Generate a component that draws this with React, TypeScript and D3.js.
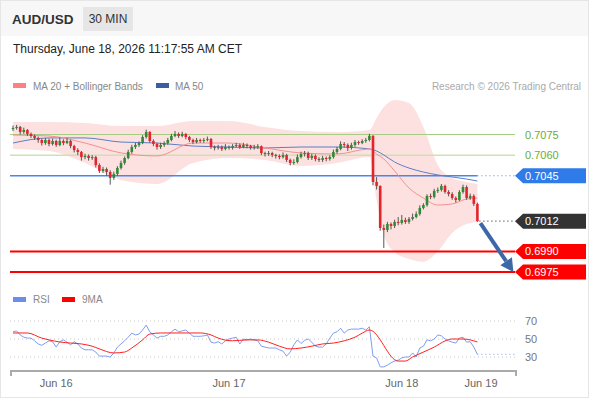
import React from "react";
import * as d3 from "d3";

// ---- Candles (30 min bars, index 0..129) ----
const opens = [
  0.70790,0.70797,0.70805,0.70768,0.70783,0.70754,0.70739,0.70725,0.70710,0.70688,
  0.70710,0.70681,0.70703,0.70674,0.70703,0.70688,0.70703,0.70666,0.70637,0.70623,
  0.70586,0.70594,0.70579,0.70586,0.70528,0.70485,0.70499,0.70477,0.70434,0.70463,
  0.70506,0.70543,0.70579,0.70623,0.70659,0.70674,0.70688,0.70732,0.70768,0.70703,
  0.70681,0.70659,0.70674,0.70688,0.70710,0.70739,0.70754,0.70739,0.70754,0.70732,
  0.70710,0.70695,0.70710,0.70703,0.70710,0.70717,0.70659,0.70652,0.70659,0.70645,
  0.70659,0.70652,0.70666,0.70674,0.70659,0.70674,0.70666,0.70652,0.70659,0.70665,
  0.70615,0.70608,0.70615,0.70601,0.70594,0.70586,0.70601,0.70565,0.70543,0.70550,
  0.70586,0.70608,0.70615,0.70579,0.70594,0.70572,0.70565,0.70579,0.70572,0.70586,
  0.70623,0.70645,0.70681,0.70674,0.70652,0.70674,0.70695,0.70688,0.70703,0.70710,
  0.70740,0.70405,0.70376,0.70070,0.70056,0.70099,0.70085,0.70114,0.70107,0.70128,
  0.70114,0.70136,0.70150,0.70172,0.70216,0.70237,0.70303,0.70296,0.70339,0.70347,
  0.70376,0.70332,0.70317,0.70288,0.70274,0.70332,0.70368,0.70288,0.70303,0.70245,
];
const closes = [
  0.70797,0.70805,0.70768,0.70783,0.70754,0.70739,0.70725,0.70710,0.70688,0.70710,
  0.70681,0.70703,0.70674,0.70703,0.70688,0.70703,0.70666,0.70637,0.70623,0.70586,
  0.70594,0.70579,0.70586,0.70528,0.70485,0.70499,0.70477,0.70434,0.70463,0.70506,
  0.70543,0.70579,0.70623,0.70659,0.70674,0.70688,0.70732,0.70768,0.70703,0.70681,
  0.70659,0.70674,0.70688,0.70710,0.70739,0.70754,0.70739,0.70754,0.70732,0.70710,
  0.70695,0.70710,0.70703,0.70710,0.70717,0.70659,0.70652,0.70659,0.70645,0.70659,
  0.70652,0.70666,0.70674,0.70659,0.70674,0.70666,0.70652,0.70659,0.70665,0.70615,
  0.70608,0.70615,0.70601,0.70594,0.70586,0.70601,0.70565,0.70543,0.70550,0.70586,
  0.70608,0.70615,0.70579,0.70594,0.70572,0.70565,0.70579,0.70572,0.70586,0.70623,
  0.70645,0.70681,0.70674,0.70652,0.70674,0.70695,0.70688,0.70703,0.70710,0.70740,
  0.70405,0.70376,0.70070,0.70056,0.70099,0.70085,0.70114,0.70107,0.70128,0.70114,
  0.70136,0.70150,0.70172,0.70216,0.70237,0.70303,0.70296,0.70339,0.70347,0.70376,
  0.70332,0.70317,0.70288,0.70274,0.70332,0.70368,0.70288,0.70303,0.70245,0.70120,
];
const highs = [
  0.70815,0.70820,0.70812,0.70800,0.70790,0.70765,0.70750,0.70735,0.70720,0.70725,
  0.70720,0.70720,0.70712,0.70730,0.70715,0.70725,0.70712,0.70675,0.70650,0.70630,
  0.70610,0.70605,0.70600,0.70595,0.70540,0.70515,0.70510,0.70490,0.70480,0.70520,
  0.70560,0.70590,0.70640,0.70675,0.70690,0.70700,0.70745,0.70785,0.70775,0.70715,
  0.70690,0.70690,0.70700,0.70725,0.70755,0.70775,0.70765,0.70770,0.70760,0.70740,
  0.70720,0.70725,0.70720,0.70725,0.70735,0.70725,0.70670,0.70675,0.70670,0.70680,
  0.70670,0.70680,0.70690,0.70685,0.70690,0.70685,0.70675,0.70675,0.70680,0.70670,
  0.70625,0.70630,0.70625,0.70610,0.70605,0.70620,0.70610,0.70575,0.70570,0.70605,
  0.70625,0.70630,0.70625,0.70610,0.70605,0.70585,0.70595,0.70590,0.70600,0.70640,
  0.70660,0.70700,0.70695,0.70685,0.70690,0.70710,0.70705,0.70715,0.70725,0.70755,
  0.70745,0.70440,0.70380,0.70095,0.70115,0.70110,0.70130,0.70150,0.70165,0.70145,
  0.70150,0.70175,0.70190,0.70235,0.70250,0.70315,0.70320,0.70355,0.70365,0.70390,
  0.70385,0.70345,0.70330,0.70300,0.70345,0.70385,0.70380,0.70320,0.70315,0.70255,
];
const lows = [
  0.70775,0.70785,0.70750,0.70755,0.70740,0.70725,0.70710,0.70690,0.70670,0.70675,
  0.70665,0.70670,0.70660,0.70665,0.70672,0.70680,0.70650,0.70620,0.70600,0.70560,
  0.70570,0.70560,0.70565,0.70510,0.70470,0.70470,0.70450,0.70385,0.70420,0.70450,
  0.70495,0.70530,0.70570,0.70610,0.70645,0.70660,0.70680,0.70720,0.70690,0.70665,
  0.70640,0.70645,0.70660,0.70675,0.70700,0.70730,0.70725,0.70730,0.70715,0.70695,
  0.70680,0.70685,0.70690,0.70690,0.70700,0.70645,0.70635,0.70640,0.70630,0.70635,
  0.70640,0.70640,0.70655,0.70645,0.70650,0.70650,0.70640,0.70640,0.70645,0.70600,
  0.70590,0.70595,0.70585,0.70575,0.70570,0.70575,0.70550,0.70525,0.70530,0.70540,
  0.70575,0.70590,0.70565,0.70565,0.70555,0.70550,0.70550,0.70555,0.70560,0.70575,
  0.70610,0.70635,0.70655,0.70630,0.70640,0.70660,0.70675,0.70680,0.70690,0.70700,
  0.70380,0.70350,0.70050,0.69925,0.70040,0.70060,0.70070,0.70090,0.70095,0.70100,
  0.70100,0.70125,0.70140,0.70160,0.70205,0.70225,0.70280,0.70285,0.70325,0.70335,
  0.70320,0.70300,0.70275,0.70255,0.70265,0.70320,0.70275,0.70275,0.70230,0.70115,
];

const bandIdx = [0,10,20,30,40,50,60,70,80,90,99,101,103,106,110,114,118,122,126,129];
const bbUpper = [0.70841,0.70841,0.70834,0.70812,0.70812,0.70848,0.70848,0.70805,0.70775,0.70768,0.70783,0.70870,0.70950,0.71001,0.70979,0.70805,0.70528,0.70434,0.70405,0.70390];
const bbLower = [0.70645,0.70630,0.70543,0.70419,0.70390,0.70543,0.70579,0.70565,0.70521,0.70543,0.70586,0.70274,0.70019,0.69895,0.69845,0.69825,0.69900,0.70034,0.70099,0.70114];
const ma20 = [0.70746,0.70739,0.70688,0.70616,0.70594,0.70688,0.70688,0.70652,0.70616,0.70608,0.70645,0.70608,0.70572,0.70485,0.70361,0.70288,0.70237,0.70245,0.70281,0.70288];
const ma50 = [0.70688,0.70725,0.70725,0.70695,0.70688,0.70666,0.70659,0.70652,0.70659,0.70659,0.70645,0.70630,0.70601,0.70550,0.70506,0.70477,0.70456,0.70441,0.70426,0.70412];

const rsi = [
  58,59,54.5,52,51,51,48,44.5,43,45.5,
  48,47,41,47,49,46.5,43.5,47,44.5,40,
  38,38,38,35.5,31,31,31,30,34.5,41,
  44.5,48,52,56.5,54.5,55.5,60,65.5,58,54.5,
  51,53,53,54.5,58,61,58,59,60,56.5,
  53,53,53,53.5,54.5,46.5,45.5,47,44.5,48,
  50,51,52,44.5,50,49,50,49,48,42,
  41,40,40,40,38,36.5,31,35.5,43.5,49,
  45,48.5,50,46.5,42,41,41,44.5,51,56.5,
  58,62,56.5,60,61,61,61,62,60,63.5,
  31,29,19,19,21,23.5,25.5,26.5,29,30,
  30,34.5,30,40,42,49,48,50,54.5,53.5,
  50,48,46.5,45.5,51,52,46.5,47,41,33,
];
const rsiMaIdx = [0,4,8,10,13,16,19,22,24,28,31,33,36,38,41,45,49,52,55,57,61,65,68,71,74,77,80,83,86,89,92,95,97,99,107,109,111,114,117,120,122,125,127,129];
const rsiMa = [56.7,56.7,51,49,46.7,45.5,44.5,42,39,34.5,35.5,40,49,55.5,56.7,56.7,56.7,56.7,54.5,51,48,49,49,46.5,42,39,40,42,44.5,45.5,48,52,56.5,60,25.5,25.5,30,35.5,41,47.8,50,50,49,46.7];

// ---- Levels & ticks ----
const resistances = [0.7075, 0.7060];
const pivot = 0.7045;
const lastPrice = 0.7012;
const supports = [0.6990, 0.6975];
const targetPrice = 0.6975;
const targetIdx = 139;
const rsiLevels = [70, 50, 30];
const dayTickIdx = [12, 60, 108, 130];
const dayTickLabels = ["Jun 16", "Jun 17", "Jun 18", "Jun 19"];

const FONT = "'Liberation Sans', Arial, Helvetica, sans-serif";

export default function App() {
  const W = 590, H = 400;
  const x = d3.scaleLinear().domain([0, 129]).range([13, 477.4]);
  const y = d3.scaleLinear().domain([0.6975, 0.7075]).range([272, 134.5]);
  const yr = d3.scaleLinear().domain([30, 70]).range([357, 321]);
  const L = 10, R = 515;

  const band = d3.area<number>()
    .x((_, i) => x(bandIdx[i]))
    .y0((_, i) => y(bbLower[i]))
    .y1((_, i) => y(bbUpper[i]))
    .curve(d3.curveMonotoneX)(bandIdx);
  const lineOf = (idx: number[], vals: number[], sc: (v: number) => number) =>
    d3.line<number>().x((_, i) => x(idx[i])).y((_, i) => sc(vals[i])).curve(d3.curveMonotoneX)(idx) || "";

  const ma20Path = lineOf(bandIdx, ma20, y);
  const ma50Path = lineOf(bandIdx, ma50, y);
  const rsiPath = d3.line<number>().x((_, i) => x(i)).y((v) => yr(v))(rsi) || "";
  const rsiMaPath = lineOf(rsiMaIdx, rsiMa, yr);

  const lastX = x(closes.length - 1);
  const label = (v: number, text: string, fill: string) => {
    const cy = y(v);
    const h = 7.5;
    const p = `M${R},${cy} L${R + 8},${cy - h} L586,${cy - h} L586,${cy + h} L${R + 8},${cy + h} Z`;
    return (
      <g key={text}>
        <path d={p} fill={fill} />
        <text x={R + 10} y={cy + 4} fill="#fff" fontSize={11}>{text}</text>
      </g>
    );
  };

  // arrow
  const ax1 = lastX + 3, ay1 = y(lastPrice) + 2;
  const ax2 = x(targetIdx), ay2 = y(targetPrice);
  const ang = Math.atan2(ay2 - ay1, ax2 - ax1);
  const headLen = 13, headW = 7;
  const bx = ax2 - headLen * Math.cos(ang), by = ay2 - headLen * Math.sin(ang);
  const head = `M${ax2},${ay2} L${bx + headW * Math.sin(ang)},${by - headW * Math.cos(ang)} L${bx - headW * Math.sin(ang)},${by + headW * Math.cos(ang)} Z`;

  return (
    <svg width={W} height={H} style={{ position: "absolute", left: 0, top: 0, fontFamily: FONT }}>
      <rect x={0} y={0} width={W} height={H} fill="#fff" />
      <rect x={0} y={0} width={588} height={36} fill="#f7f7f7" />
      <rect x={0.5} y={0.5} width={588} height={397} fill="none" stroke="#e6e6e6" />

      {/* header */}
      <text x={12} y={24} fontSize={13.5} fontWeight="bold" fill="#333">AUD/USD</text>
      <rect x={83} y={7} width={50} height={24} fill="#e6e6e6" rx={1} />
      <text x={108} y={23} fontSize={12} fill="#333" textAnchor="middle">30 MIN</text>
      <text x={13} y={53} fontSize={12} fill="#222">Thursday, June 18, 2026 11:17:55 AM CET</text>

      {/* legend */}
      <rect x={13} y={83} width={13} height={5} fill="#ff8080" />
      <text x={33} y={90} fontSize={10} fill="#888">MA 20 + Bollinger Bands</text>
      <rect x={156} y={83} width={13} height={5} fill="#3a5fa0" />
      <text x={175} y={90} fontSize={10} fill="#888">MA 50</text>
      <text x={581} y={90} fontSize={10} fill="#aaa" textAnchor="end">Research © 2026 Trading Central</text>

      {/* bollinger band */}
      <path d={band || ""} fill="#fde1e1" />

      {/* levels */}
      <line x1={L} x2={R} y1={y(resistances[0])} y2={y(resistances[0])} stroke="#a6cc85" strokeWidth={1} />
      <line x1={L} x2={R} y1={y(resistances[1])} y2={y(resistances[1])} stroke="#c9e4b1" strokeWidth={1.5} />
      {resistances.map((v) => (
        <text key={v} x={R + 10} y={y(v) + 4} fontSize={11} fill="#6aac3a">{v.toFixed(4)}</text>
      ))}
      <line x1={L} x2={lastX} y1={y(pivot)} y2={y(pivot)} stroke="#4a86e8" strokeWidth={1.3} />
      <line x1={lastX} x2={R} y1={y(pivot)} y2={y(pivot)} stroke="#4a86e8" strokeWidth={1.2} strokeDasharray="1,3" />
      <line x1={lastX + 2} x2={R} y1={y(lastPrice)} y2={y(lastPrice)} stroke="#444" strokeWidth={1.2} strokeDasharray="1,3" />
      {supports.map((v) => (
        <line key={v} x1={L} x2={R} y1={y(v)} y2={y(v)} stroke="#ff0000" strokeWidth={2} />
      ))}

      {/* MAs */}
      <path d={ma50Path} fill="none" stroke="#5b7fc4" strokeWidth={1} />
      <path d={ma20Path} fill="none" stroke="#f59090" strokeWidth={1} />

      {/* candles */}
      {closes.map((c, i) => {
        const o = opens[i];
        const up = c >= o;
        const cx = x(i);
        const top = y(Math.max(o, c));
        const bot = y(Math.min(o, c));
        const hgt = Math.max(1, bot - top);
        return (
          <g key={i}>
            <line x1={cx} x2={cx} y1={y(highs[i])} y2={y(lows[i])} stroke="#555" strokeWidth={1} />
            <rect x={cx - 1.3} y={top} width={2.6} height={hgt} fill={up ? "#2f8a36" : "#e3242b"} />
          </g>
        );
      })}

      {/* labels */}
      {label(pivot, pivot.toFixed(4), "#2f7bea")}
      {label(lastPrice, lastPrice.toFixed(4), "#333333")}
      {supports.map((v) => label(v, v.toFixed(4), "#ff0000"))}

      {/* arrow */}
      <line x1={ax1} y1={ay1} x2={bx} y2={by} stroke="#3d68a8" strokeWidth={4} />
      <path d={head} fill="#3d68a8" />

      {/* RSI legend */}
      <rect x={13} y={297} width={13} height={5} fill="#6b8ee8" />
      <text x={33} y={303} fontSize={10} fill="#888">RSI</text>
      <rect x={62} y={297} width={13} height={5} fill="#ff0000" />
      <text x={82} y={303} fontSize={10} fill="#888">9MA</text>

      {/* RSI grid */}
      {rsiLevels.map((v) => (
        <g key={v}>
          <line x1={L} x2={R} y1={yr(v)} y2={yr(v)} stroke="#c8c8c8" strokeDasharray="1,3" />
          <text x={R + 10} y={yr(v) + 4} fontSize={11} fill="#777">{v}</text>
        </g>
      ))}
      <path d={rsiPath} fill="none" stroke="#7f9ef0" strokeWidth={1} />
      <line x1={lastX} x2={R} y1={yr(rsi[rsi.length - 1])} y2={yr(rsi[rsi.length - 1])} stroke="#7f9ef0" strokeDasharray="1,3" />
      <path d={rsiMaPath} fill="none" stroke="#ff2020" strokeWidth={1} />

      {/* x axis */}
      <line x1={11} x2={516} y1={371} y2={371} stroke="#aaa" strokeWidth={2} />
      <line x1={11} x2={11} y1={370} y2={376} stroke="#aaa" strokeWidth={2} />
      <line x1={516} x2={516} y1={370} y2={376} stroke="#aaa" strokeWidth={2} />
      {dayTickIdx.map((t, i) => (
        <text key={t} x={x(t)} y={387} fontSize={11} fill="#666" textAnchor="middle">{dayTickLabels[i]}</text>
      ))}
    </svg>
  );
}
